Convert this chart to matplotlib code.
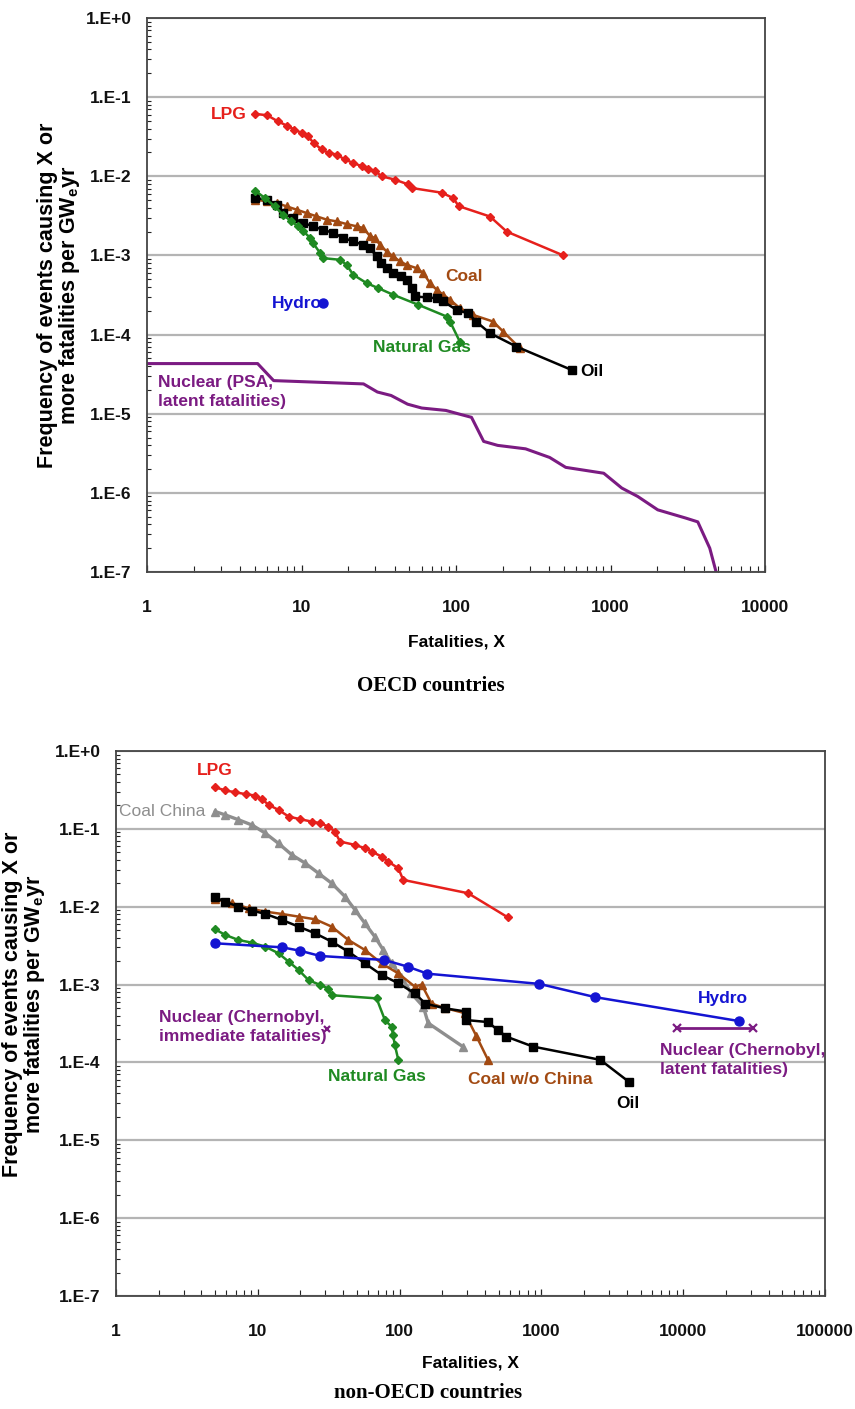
import numpy as np
import matplotlib
matplotlib.use("Agg")
import matplotlib.pyplot as plt
from matplotlib.ticker import LogLocator, FuncFormatter, NullFormatter

plt.rcParams['font.family'] = ['Liberation Sans', 'DejaVu Sans']
plt.rcParams['font.weight'] = 'bold'
plt.rcParams['mathtext.fontset'] = 'custom'
plt.rcParams['mathtext.bf'] = 'Liberation Sans:bold'
plt.rcParams['mathtext.rm'] = 'Liberation Sans:bold'

# ---- OECD data (fatalities X, frequency per GWe-yr) ----
oecd_lpg_x = [5, 6, 7, 8, 9, 10, 11, 12, 13.5, 15, 17, 19, 21.6, 24.5, 27, 30, 33, 40, 49, 52, 81, 96, 104, 166, 213, 495]
oecd_lpg_y = [0.0615, 0.059, 0.0497, 0.0438, 0.039, 0.0354, 0.032, 0.0264, 0.0218, 0.0197, 0.0188, 0.0163, 0.0148,
              0.0134, 0.0125, 0.0116, 0.0100, 0.0091, 0.0079, 0.0071, 0.0062, 0.0053, 0.0042, 0.0031, 0.0020, 0.0010]

oecd_coal_x = [5, 6, 6.9, 8, 9.3, 10.8, 12.5, 14.6, 16.9, 19.6, 22.8, 25.1, 27.8, 29.9, 32.2, 35.6, 39.3, 43.4, 48,
               55.6, 61.5, 67.9, 75, 82.8, 91.5, 106, 129, 174, 202, 260]
oecd_coal_y = [0.00507, 0.00483, 0.0046, 0.00417, 0.00379, 0.00343, 0.00312, 0.00283, 0.00269, 0.00249, 0.00233,
               0.00222, 0.00175, 0.00166, 0.00136, 0.00112, 9.7e-4, 8.4e-4, 7.6e-4, 6.9e-4, 5.97e-4, 4.47e-4,
               3.68e-4, 3.18e-4, 2.75e-4, 2.15e-4, 1.77e-4, 1.46e-4, 1.09e-4, 6.7e-5]

oecd_oil_x = [5, 6, 6.9, 7.6, 8.8, 10.3, 11.9, 13.8, 16.1, 18.7, 21.7, 25.1, 27.8, 30.6, 32.9, 35.6, 39.3, 44.3, 48,
              51.7, 54.3, 64.5, 74.9, 82.8, 100.8, 120, 135, 166, 246, 561]
oecd_oil_y = [0.00532, 0.00507, 0.00438, 0.00343, 0.00297, 0.00257, 0.00233, 0.00211, 0.00192, 0.00166, 0.0015,
              0.00136, 0.00124, 9.7e-4, 8.0e-4, 6.9e-4, 5.97e-4, 5.42e-4, 4.92e-4, 3.86e-4, 3.03e-4, 2.95e-4,
              2.88e-4, 2.62e-4, 2.05e-4, 1.86e-4, 1.46e-4, 1.04e-4, 7.05e-5, 3.57e-5]

oecd_gas_x = [5, 5.8, 6.7, 7.6, 8.6, 9.5, 10.3, 11.4, 11.9, 13.2, 13.8, 17.8, 19.6, 21.6, 26.4, 31.4, 39.3, 57, 87,
              91.5, 106]
oecd_gas_y = [0.00659, 0.00532, 0.00417, 0.00327, 0.00269, 0.00233, 0.00201, 0.00166, 0.00143, 0.00107, 9.25e-4,
              8.8e-4, 7.6e-4, 5.7e-4, 4.47e-4, 3.86e-4, 3.18e-4, 2.38e-4, 1.69e-4, 1.46e-4, 8.1e-5]

oecd_hydro_x = [13.7]
oecd_hydro_y = [2.5e-4]

oecd_nuc_x = [1, 5.2, 6.6, 25.2, 31, 38, 48.6, 60, 86, 109, 126, 151, 186, 282, 404, 513, 904, 1183, 1501, 2022,
              3071, 3672, 4390, 4860]
oecd_nuc_y = [4.3e-5, 4.3e-5, 2.62e-5, 2.38e-5, 1.88e-5, 1.7e-5, 1.32e-5, 1.18e-5, 1.1e-5, 9.7e-6, 9.0e-6, 4.47e-6,
              3.98e-6, 3.6e-6, 2.8e-6, 2.1e-6, 1.77e-6, 1.15e-6, 9.0e-7, 6.1e-7, 4.8e-7, 4.3e-7, 2.0e-7, 9.5e-8]

# ---- non-OECD data ----
non_lpg_x = [5, 5.9, 6.9, 8.2, 9.6, 10.7, 11.9, 14, 16.5, 19.9, 24, 27.5, 31.5, 35, 38, 48.5, 57, 63.5, 74.6, 83,
             98, 106, 304, 580]
non_lpg_y = [0.343, 0.311, 0.296, 0.279, 0.268, 0.241, 0.204, 0.175, 0.144, 0.133, 0.124, 0.118, 0.107, 0.092,
             0.0687, 0.0622, 0.0564, 0.0511, 0.0441, 0.038, 0.0312, 0.0221, 0.0149, 0.0073]

non_coalchina_x = [5, 5.9, 7.3, 9.1, 11.3, 14, 17.4, 21.6, 26.8, 33.2, 41.2, 48.5, 57, 67, 76.7, 87.8, 103, 121,
                   147, 159, 280]
non_coalchina_y = [0.167, 0.151, 0.131, 0.112, 0.088, 0.065, 0.0463, 0.0362, 0.0269, 0.02, 0.0135, 0.0091, 0.0061,
                   0.0041, 0.00278, 0.00187, 0.00126, 7.7e-4, 5.2e-4, 3.2e-4, 1.59e-4]

non_coal_x = [5, 6.6, 8.6, 11.3, 14.8, 19.4, 25.4, 33.2, 43.5, 57, 74.6, 98, 128, 143, 168, 208, 288, 347, 420]
non_coal_y = [0.0125, 0.0111, 0.00955, 0.00865, 0.00807, 0.00746, 0.00689, 0.00555, 0.00374, 0.00278, 0.00187,
              0.00139, 9.4e-4, 1.0e-3, 5.7e-4, 5.0e-4, 4.3e-4, 2.2e-4, 1.08e-4]

non_oil_x = [5, 5.9, 7.3, 9.1, 11.3, 14.8, 19.4, 25.4, 33.2, 43.5, 57, 74.6, 98, 128, 152, 208, 296, 296, 420, 493,
             565, 871, 2600, 4160]
non_oil_y = [0.0132, 0.0116, 0.01, 0.0089, 0.0081, 0.00676, 0.00555, 0.00455, 0.00356, 0.00265, 0.00187, 0.00133,
             0.00104, 7.7e-4, 5.7e-4, 4.95e-4, 4.5e-4, 3.5e-4, 3.3e-4, 2.6e-4, 2.15e-4, 1.6e-4, 1.08e-4, 5.6e-5]

non_gas_x = [5, 5.9, 7.3, 9.1, 11.3, 14, 16.5, 19.4, 22.8, 27.5, 31.5, 33.2, 68.8, 78.8, 87.8, 90, 92.6, 98]
non_gas_y = [0.00513, 0.00434, 0.00374, 0.00345, 0.00307, 0.00252, 0.00197, 0.00154, 0.00114, 9.9e-4, 8.9e-4,
             7.3e-4, 6.65e-4, 3.5e-4, 2.87e-4, 2.24e-4, 1.67e-4, 1.07e-4]

non_hydro_x = [5, 14.8, 19.9, 27.5, 78, 114, 157, 968, 2390, 24700]
non_hydro_y = [0.00339, 0.00301, 0.00272, 0.00233, 0.00207, 0.0017, 0.00138, 0.00102, 6.9e-4, 3.4e-4]

chern_immediate_x = [31]
chern_immediate_y = [2.7e-4]
chern_latent_x = [9000, 31000]
chern_latent_y = [2.75e-4, 2.75e-4]

RED = '#e6201c'
BROWN = '#a24a12'
GREEN = '#1f8a22'
BLUE = '#1414d2'
PURPLE = '#7b1b82'
GRAY = '#8e8e8e'

fig = plt.figure(figsize=(8.55, 14.09), dpi=100)
W, H = 855, 1409
ax1 = fig.add_axes([147 / W, 1 - 572 / H, (765 - 147) / W, (572 - 18) / H])
ax2 = fig.add_axes([116 / W, 1 - 1296 / H, (825 - 116) / W, (1296 - 751) / H])


def style_axis(ax, xmax):
    ax.set_xscale('log')
    ax.set_yscale('log')
    ax.set_xlim(1, xmax)
    ax.set_ylim(1e-7, 1)
    ax.yaxis.set_major_locator(LogLocator(base=10, numticks=10))
    ax.yaxis.set_minor_locator(LogLocator(base=10, subs=np.arange(2, 10), numticks=20))
    ax.yaxis.set_minor_formatter(NullFormatter())
    ax.xaxis.set_major_locator(LogLocator(base=10, numticks=10))
    ax.xaxis.set_minor_locator(LogLocator(base=10, subs=np.arange(2, 10), numticks=20))
    ax.xaxis.set_minor_formatter(NullFormatter())
    ax.yaxis.set_major_formatter(FuncFormatter(lambda v, p: "1.E%+d" % int(round(np.log10(v)))))
    ax.xaxis.set_major_formatter(FuncFormatter(lambda v, p: "%d" % int(round(v))))
    ax.tick_params(axis='both', which='both', direction='in', colors='#222222', labelcolor='#111111')
    ax.tick_params(axis='y', which='major', length=0, pad=11, labelsize=12.5)
    ax.tick_params(axis='y', which='minor', length=3, width=0.8)
    ax.tick_params(axis='x', which='major', length=5, width=0.9, pad=20, labelsize=12.5)
    ax.tick_params(axis='x', which='minor', length=4, width=0.8)
    ax.grid(True, which='major', axis='y', color='#b4b4b4', linewidth=1.6)
    for s in ax.spines.values():
        s.set_color('#444444')
        s.set_linewidth(1.3)
    ax.set_xlabel('Fatalities, X', fontsize=12.5, fontweight='bold')
    ax.set_ylabel('Frequency of events causing X or\nmore fatalities per GW$_\\mathbf{e}$yr',
                  fontsize=15.5, fontweight='bold', linespacing=0.95)


style_axis(ax1, 1e4)
style_axis(ax2, 1e5)
ax1.xaxis.set_label_coords(0.5, -0.113)
ax2.xaxis.set_label_coords(0.5, -0.11)
ax1.yaxis.set_label_coords(-0.105, 0.5)
ax2.yaxis.set_label_coords(-0.097, 0.535)

lw = 1.8
# OECD
ax1.plot(oecd_nuc_x, oecd_nuc_y, color=PURPLE, lw=2.2)
ax1.plot(oecd_lpg_x, oecd_lpg_y, color=RED, lw=lw, marker='D', ms=4.5)
ax1.plot(oecd_coal_x, oecd_coal_y, color=BROWN, lw=lw, marker='^', ms=6)
ax1.plot(oecd_oil_x, oecd_oil_y, color='black', lw=lw, marker='s', ms=6)
ax1.plot(oecd_gas_x, oecd_gas_y, color=GREEN, lw=lw, marker='D', ms=4.5)
ax1.plot(oecd_hydro_x, oecd_hydro_y, color=BLUE, lw=0, marker='o', ms=6.5)

lab = dict(fontsize=12.5, fontweight='bold', va='center')
ax1.text(4.4, 0.06, 'LPG', color=RED, ha='right', **lab)
ax1.text(85, 5.4e-4, 'Coal', color=BROWN, ha='left', **lab)
ax1.text(6.4, 2.45e-4, 'Hydro', color=BLUE, ha='left', **lab)
ax1.text(29, 6.8e-5, 'Natural Gas', color=GREEN, ha='left', **lab)
ax1.text(640, 3.45e-5, 'Oil', color='black', ha='left', **lab)
ax1.text(1.17, 1.9e-5, 'Nuclear (PSA,\nlatent fatalities)', color=PURPLE, ha='left', linespacing=1.35, **lab)

# non-OECD
ax2.plot(non_lpg_x, non_lpg_y, color=RED, lw=lw, marker='D', ms=4.5)
ax2.plot(non_coalchina_x, non_coalchina_y, color=GRAY, lw=lw + 0.6, marker='^', ms=6)
ax2.plot(non_coal_x, non_coal_y, color=BROWN, lw=lw, marker='^', ms=6)
ax2.plot(non_oil_x, non_oil_y, color='black', lw=lw, marker='s', ms=6)
ax2.plot(non_gas_x, non_gas_y, color=GREEN, lw=lw, marker='D', ms=4.5)
ax2.plot(non_hydro_x, non_hydro_y, color=BLUE, lw=lw, marker='o', ms=6.5)
ax2.plot(chern_immediate_x, chern_immediate_y, color=PURPLE, lw=0, marker='x', ms=5, mew=1.6)
ax2.plot(chern_latent_x, chern_latent_y, color=PURPLE, lw=2, marker='x', ms=6, mew=1.6)

ax2.text(5, 0.57, 'LPG', color=RED, ha='center', **lab)
ax2.text(4.3, 0.167, 'Coal China', color=GRAY, ha='right', fontsize=12.5, fontweight='normal', va='center')
ax2.text(2.0, 2.84e-4, 'Nuclear (Chernobyl,\nimmediate fatalities)', color=PURPLE, ha='left',
         linespacing=1.35, **lab)
ax2.text(31.5, 6.5e-5, 'Natural Gas', color=GREEN, ha='left', **lab)
ax2.text(304, 6.0e-5, 'Coal w/o China', color=BROWN, ha='left', **lab)
ax2.text(4100, 2.95e-5, 'Oil', color='black', ha='center', **lab)
ax2.text(19200, 6.7e-4, 'Hydro', color=BLUE, ha='center', **lab)
ax2.text(6880, 1.07e-4, 'Nuclear (Chernobyl,\nlatent fatalities)', color=PURPLE, ha='left',
         linespacing=1.35, **lab)

cap = dict(fontsize=15, fontweight='bold', family=['Liberation Serif', 'DejaVu Serif'], ha='center', va='center')
fig.text(431 / W, 1 - 686 / H, 'OECD countries', **cap)
fig.text(428 / W, 1 - 1393 / H, 'non-OECD countries', **cap)

fig.savefig('out.png', dpi=100, facecolor='white')
